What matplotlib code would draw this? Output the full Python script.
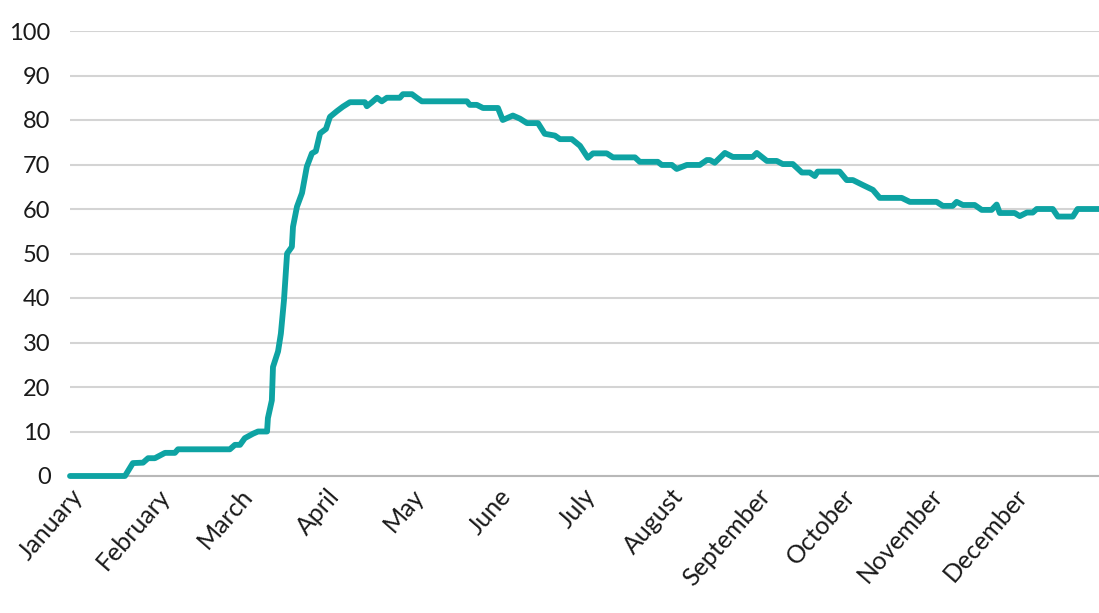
import matplotlib
matplotlib.use("Agg")
import matplotlib.pyplot as plt

# day of year (0 = 1 January) and index value
days = [0, 19.5, 22.3, 25.9, 27.7, 30.1, 33.7, 37.2, 38.3, 56.7, 58.5, 60.3, 62.0,
        64.9, 66.7, 69.9, 70.2, 71.6, 72.0, 73.8, 74.8, 75.9, 77.0, 78.7, 79.1,
        80.5, 82.3, 84.0, 85.8, 87.2, 88.7, 90.8, 92.2, 94.7, 96.8, 99.3, 104.6,
        105.3, 107.1, 108.9, 110.6, 112.4, 117.0, 118.1, 121.3, 123.0, 124.8,
        140.8, 141.8, 144.3, 146.5, 151.8, 153.5, 157.1, 159.6, 162.1, 166.0,
        168.4, 172.0, 173.8, 178.0, 180.9, 183.7, 185.5, 190.4, 192.6, 200.4,
        202.1, 208.5, 209.9, 213.5, 215.2, 218.8, 223.4, 225.9, 227.0, 228.7,
        232.3, 235.1, 242.2, 243.6, 247.2, 250.7, 252.8, 256.4, 259.6, 262.4,
        264.2, 265.2, 273.0, 275.5, 277.7, 281.2, 284.8, 287.2, 295.0, 297.9,
        307.4, 309.6, 313.1, 314.5, 316.7, 320.9, 323.4, 326.9, 328.7, 329.8,
        335.1, 336.9, 339.4, 341.5, 342.9, 348.6, 350.4, 355.7, 357.4, 365.0]
values = [0, 0, 2.9, 3, 4, 4, 5.2, 5.2, 6, 6, 7, 7, 8.5,
          9.5, 10, 10, 13, 17, 24.5, 28, 32, 39.5, 50, 51.5, 56,
          60.5, 63.6, 69.5, 72.5, 73, 77, 78, 80.7, 82, 83, 84, 84,
          83.1, 84, 85, 84.2, 85, 85, 85.8, 85.8, 85, 84.2,
          84.2, 83.4, 83.4, 82.7, 82.7, 80, 81, 80.3, 79.3, 79.3,
          76.9, 76.5, 75.7, 75.7, 74.2, 71.5, 72.5, 72.5, 71.6, 71.6,
          70.6, 70.6, 69.9, 69.9, 69, 69.9, 69.9, 71, 71, 70.4,
          72.6, 71.7, 71.7, 72.6, 70.8, 70.8, 70.1, 70.1, 68.2, 68.2,
          67.4, 68.4, 68.4, 66.5, 66.5, 65.4, 64.3, 62.5, 62.5, 61.6,
          61.6, 60.7, 60.7, 61.6, 60.9, 60.9, 59.8, 59.8, 61, 59.1,
          59.1, 58.4, 59.2, 59.2, 60, 60, 58.3, 58.3, 60, 60]

months = ["January", "February", "March", "April", "May", "June", "July",
          "August", "September", "October", "November", "December"]
month_start = [0, 31, 60, 91, 121, 152, 182, 213, 244, 274, 305, 335]
yticks = [0, 10, 20, 30, 40, 50, 60, 70, 80, 90, 100]

plt.rcParams['font.family'] = ['Lato', 'DejaVu Sans']

fig = plt.figure(figsize=(10.99, 6.13), dpi=100)
ax = fig.add_axes([70 / 1099, 137 / 613, 1029 / 1099, 445 / 613])

ax.plot(days, values, color='#0ea3a3', lw=4.2, solid_joinstyle='round',
        solid_capstyle='round', zorder=3, clip_on=False)

ax.set_xlim(0, 365)
ax.set_ylim(0, 100)
ax.set_yticks(yticks)
ax.yaxis.grid(True, color='#d4d4d4', lw=1.5)
ax.set_axisbelow(True)
for s in ['top', 'right', 'left']:
    ax.spines[s].set_visible(False)
ax.spines['bottom'].set_color('#b8b8b8')
ax.spines['bottom'].set_linewidth(1.5)
ax.tick_params(axis='y', length=0, pad=14, labelsize=17, labelcolor='#1a1a1a')
ax.tick_params(axis='x', length=0, pad=6)

ax.set_xticks(month_start)
ax.set_xticklabels(months, rotation=49, ha='right', va='top',
                   rotation_mode='anchor', fontsize=18, color='#1a1a1a')

fig.savefig('out.png', dpi=100)
